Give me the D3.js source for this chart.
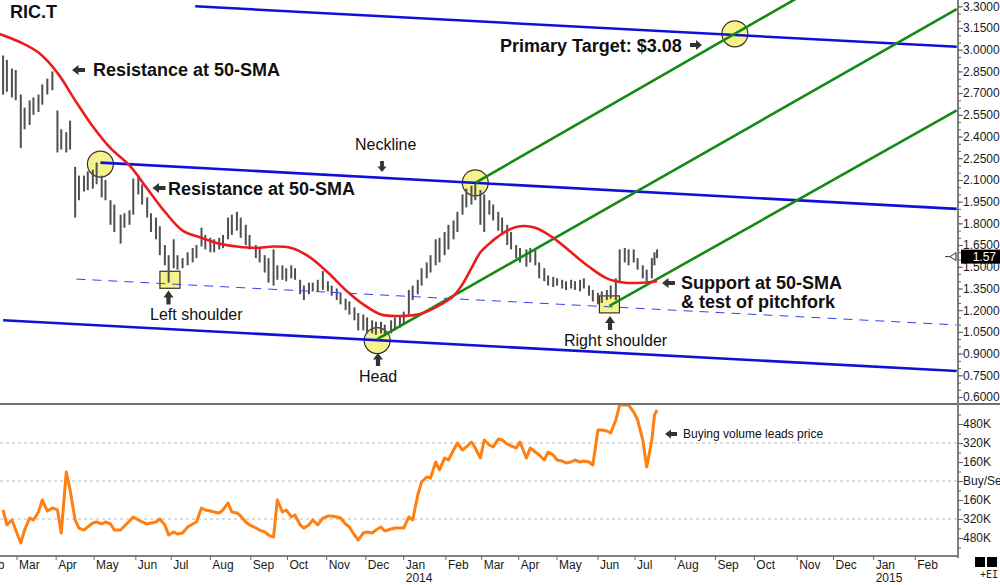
<!DOCTYPE html>
<html>
<head>
<meta charset="utf-8">
<script src="https://cdn.jsdelivr.net/npm/d3@7"></script>
<style>
  body { margin: 0; background: #fff; }
  svg { display: block; font-family: Arial, "Liberation Sans", sans-serif; }
</style>
</head>
<body>
<svg id="chart" width="1000" height="585"></svg>
<script>
// Data
const parseDate = d3.timeParse("%Y-%m-%d");

// first trading day of a few months, used to pin the time axis
const axisAnchors = ["2013-03-01", "2014-01-02", "2014-07-01", "2015-01-02"];

const barDates = [
  "2013-02-18","2013-02-21","2013-02-25","2013-02-28","2013-03-04","2013-03-07","2013-03-11","2013-03-14","2013-03-18","2013-03-21",
  "2013-03-25","2013-03-29","2013-04-02","2013-04-05","2013-04-09","2013-04-12","2013-04-16","2013-04-19","2013-04-23","2013-04-26",
  "2013-04-30","2013-05-03","2013-05-07","2013-05-10","2013-05-14","2013-05-17","2013-05-22","2013-05-25","2013-05-29","2013-06-01",
  "2013-06-05","2013-06-08","2013-06-12","2013-06-15","2013-06-19","2013-06-22","2013-06-26","2013-06-29","2013-07-03","2013-07-06",
  "2013-07-10","2013-07-14","2013-07-18","2013-07-21","2013-07-25","2013-07-28","2013-08-01","2013-08-04","2013-08-08","2013-08-11",
  "2013-08-15","2013-08-18","2013-08-22","2013-08-25","2013-08-29","2013-09-01","2013-09-06","2013-09-09","2013-09-13","2013-09-16",
  "2013-09-20","2013-09-23","2013-09-27","2013-09-30","2013-10-04","2013-10-07","2013-10-11","2013-10-14","2013-10-18","2013-10-21",
  "2013-10-25","2013-10-29","2013-11-02","2013-11-05","2013-11-09","2013-11-12","2013-11-16","2013-11-19","2013-11-23","2013-11-26",
  "2013-11-30","2013-12-03","2013-12-07","2013-12-10","2013-12-14","2013-12-17","2013-12-22","2013-12-25","2013-12-29","2014-01-01",
  "2014-01-05","2014-01-08","2014-01-12","2014-01-15","2014-01-19","2014-01-22","2014-01-26","2014-01-29","2014-02-02","2014-02-05",
  "2014-02-09","2014-02-12","2014-02-16","2014-02-19","2014-02-23","2014-02-26","2014-03-02","2014-03-05","2014-03-09","2014-03-12",
  "2014-03-16","2014-03-19","2014-03-23","2014-03-26","2014-03-30","2014-04-02","2014-04-07","2014-04-10","2014-04-14","2014-04-17",
  "2014-04-21","2014-04-24","2014-04-28","2014-05-01","2014-05-05","2014-05-08","2014-05-12","2014-05-15","2014-05-19","2014-05-22",
  "2014-05-26","2014-05-29","2014-06-02","2014-06-05","2014-06-09","2014-06-12","2014-06-16","2014-06-19","2014-06-23","2014-06-26",
  "2014-06-30","2014-07-03","2014-07-07","2014-07-10","2014-07-14","2014-07-16","2014-07-18"
];

const barHigh = [
  2.96,2.93,2.87,2.86,2.69,2.60,2.65,2.67,2.69,2.76,
  2.80,2.85,2.58,2.45,2.43,2.51,2.19,2.13,2.13,2.16,
  2.17,2.22,2.13,2.10,1.96,1.93,1.86,1.87,1.89,2.11,
  2.13,2.07,1.98,1.87,1.84,1.78,1.65,1.58,1.69,1.58,
  1.56,1.60,1.63,1.65,1.77,1.72,1.70,1.69,1.70,1.72,
  1.84,1.86,1.88,1.84,1.79,1.72,1.65,1.63,1.58,1.56,
  1.62,1.51,1.51,1.49,1.51,1.49,1.41,1.37,1.39,1.39,
  1.41,1.47,1.40,1.37,1.35,1.32,1.28,1.26,1.22,1.18,
  1.17,1.15,1.13,1.12,1.12,1.10,1.13,1.15,1.16,1.19,
  1.34,1.37,1.41,1.49,1.53,1.58,1.69,1.70,1.74,1.79,
  1.82,1.88,2.00,2.04,2.06,2.08,2.03,2.00,1.96,1.93,
  1.88,1.84,1.79,1.74,1.65,1.63,1.62,1.63,1.62,1.53,
  1.49,1.44,1.43,1.42,1.41,1.40,1.41,1.40,1.41,1.42,
  1.37,1.34,1.32,1.33,1.34,1.37,1.42,1.62,1.63,1.62,
  1.62,1.56,1.51,1.48,1.56,1.60,1.62
];

const barLow = [
  2.69,2.71,2.67,2.65,2.32,2.45,2.48,2.55,2.57,2.62,
  2.69,2.72,2.29,2.31,2.29,2.31,1.84,1.96,2.02,2.03,
  2.04,2.07,1.98,1.96,1.79,1.74,1.66,1.77,1.79,1.86,
  2.00,1.93,1.84,1.74,1.69,1.58,1.51,1.39,1.49,1.48,
  1.49,1.51,1.53,1.56,1.64,1.62,1.60,1.60,1.62,1.63,
  1.69,1.72,1.75,1.70,1.65,1.62,1.56,1.53,1.46,1.39,
  1.37,1.41,1.41,1.40,1.42,1.41,1.31,1.27,1.31,1.33,
  1.33,1.34,1.33,1.30,1.27,1.24,1.20,1.17,1.13,1.06,
  1.06,1.04,1.04,1.03,1.04,1.02,1.04,1.06,1.08,1.10,
  1.17,1.27,1.31,1.37,1.42,1.46,1.51,1.53,1.58,1.62,
  1.69,1.74,1.86,1.91,1.93,1.96,1.79,1.74,1.86,1.82,
  1.75,1.72,1.65,1.62,1.56,1.53,1.50,1.53,1.51,1.42,
  1.40,1.37,1.36,1.37,1.35,1.34,1.35,1.34,1.33,1.35,
  1.30,1.26,1.24,1.25,1.27,1.28,1.27,1.40,1.53,1.51,
  1.53,1.48,1.42,1.40,1.42,1.51,1.56
];

// buy/sell volume flow, thousands (same dates as the bars)
const flowValues = [
  -244,-370,-328,-413,-522,-413,-312,-328,-261,-160,
  -253,-227,-244,-438,76,-76,-328,-396,-413,-387,
  -354,-345,-362,-345,-362,-413,-413,-379,-337,-303,
  -328,-345,-362,-354,-345,-320,-370,-455,-429,-446,
  -438,-387,-362,-345,-227,-244,-253,-261,-269,-244,
  -185,-261,-269,-295,-345,-370,-396,-413,-429,-455,
  -472,-160,-261,-244,-303,-286,-370,-396,-370,-328,
  -370,-312,-295,-295,-303,-312,-362,-387,-455,-497,
  -438,-429,-438,-413,-387,-421,-404,-396,-396,-396,
  -303,-328,-118,-8,34,25,160,93,194,177,
  261,320,261,286,328,278,194,345,303,286,
  354,345,311,295,278,328,194,278,244,219,
  177,244,219,177,168,152,160,177,160,168,
  160,135,429,429,421,404,514,640,640,640,
  581,514,345,118,345,556,598
];

const smaDates = [
  "2013-02-15","2013-02-18","2013-03-04","2013-03-18","2013-04-02","2013-04-16","2013-04-30","2013-05-14","2013-05-29","2013-06-12",
  "2013-06-26","2013-07-10","2013-07-25","2013-08-08","2013-08-22","2013-09-06","2013-09-20","2013-10-04","2013-10-18","2013-11-02",
  "2013-11-16","2013-11-30","2013-12-14","2013-12-29","2014-01-12","2014-01-26","2014-02-09","2014-02-16","2014-02-23","2014-03-02",
  "2014-03-09","2014-03-16","2014-03-23","2014-04-02","2014-04-14","2014-04-28","2014-05-12","2014-05-26","2014-06-09","2014-06-23",
  "2014-07-07","2014-07-18"
];
const smaValues = [
  3.11,3.10,3.05,2.98,2.84,2.65,2.47,2.32,2.20,2.04,
  1.88,1.75,1.70,1.66,1.64,1.63,1.64,1.63,1.57,1.46,
  1.34,1.24,1.17,1.16,1.17,1.22,1.30,1.38,1.49,1.60,
  1.66,1.71,1.75,1.78,1.77,1.70,1.60,1.50,1.42,1.39,
  1.39,1.40
];

const lastPrice = 1.57;

const priceTicks = [0.60,0.75,0.90,1.05,1.20,1.35,1.50,1.65,1.80,1.95,2.10,2.25,2.40,2.55,2.70,2.85,3.00,3.15,3.30];
const flowTicks = [-480,-320,-160,0,160,320,480];
const flowGrid = [-320,0,320];

// trend lines: [start, end] as [date, price]
const upperChannel = [["2013-07-20", 3.30], ["2015-03-06", 3.02]];
const neckline     = [["2013-05-06", 2.22], ["2015-03-06", 1.90]];
const lowerChannel = [["2013-02-18", 1.13], ["2015-03-06", 0.78]];
const innerDashed  = [["2013-04-17", 1.415], ["2015-03-06", 1.098]];
const forkUpper    = [["2014-02-26", 2.08], ["2015-03-06", 3.99]];
const forkMedian   = [["2013-12-11", 1.00], ["2015-03-06", 3.28]];
const forkLower    = [["2014-06-11", 1.23], ["2015-03-06", 2.58]];

// highlighted pivots
const pivotCircles = [["2013-05-06", 2.21], ["2013-12-11", 0.99], ["2014-02-26", 2.08], ["2014-09-16", 3.11]];
const pivotSquares = [["2013-06-30", 1.41], ["2014-06-11", 1.24]];

// Layout
const plotRight = 958, priceBottom = 404, flowBottom = 556;

const svg = d3.select("#chart");

const x = d3.scaleTime()
  .domain(axisAnchors.map(parseDate))
  .range([17, 405, 635, 875]);

const y = d3.scaleLinear().domain([0.6, 3.3]).range([397, 6.3]);
const yFlow = d3.scaleLinear().domain([-480, 480]).range([538, 424]);

const defs = svg.append("defs");
defs.append("clipPath").attr("id", "clipPrice")
  .append("rect").attr("x", 0).attr("y", 0).attr("width", plotRight).attr("height", priceBottom);
defs.append("clipPath").attr("id", "clipFlow")
  .append("rect").attr("x", 0).attr("y", priceBottom + 1).attr("width", plotRight).attr("height", flowBottom - priceBottom - 1);

// lower panel dashed grid
svg.append("g").selectAll("line")
  .data(flowGrid)
  .join("line")
  .attr("x1", 0).attr("x2", plotRight)
  .attr("y1", d => yFlow(d)).attr("y2", d => yFlow(d))
  .attr("stroke", "#b8b8b8")
  .attr("stroke-dasharray", "3,3");

const price = svg.append("g").attr("clip-path", "url(#clipPrice)");

// yellow highlights under the bars
price.selectAll("circle.pivot")
  .data(pivotCircles)
  .join("circle")
  .attr("class", "pivot")
  .attr("cx", d => x(parseDate(d[0])))
  .attr("cy", d => y(d[1]))
  .attr("r", 13)
  .attr("fill", "#f7f38c")
  .attr("stroke", "#3a3320")
  .attr("stroke-width", 1.2);

price.selectAll("rect.pivot")
  .data(pivotSquares)
  .join("rect")
  .attr("class", "pivot")
  .attr("x", d => x(parseDate(d[0])) - 10)
  .attr("y", d => y(d[1]) - 8.5)
  .attr("width", 20)
  .attr("height", 17)
  .attr("fill", "#f7f38c")
  .attr("stroke", "#3a3320")
  .attr("stroke-width", 1.2);

// price bars (high-low)
price.append("g").selectAll("line")
  .data(barDates.map((d, i) => ({ date: parseDate(d), hi: barHigh[i], lo: barLow[i] })))
  .join("line")
  .attr("x1", d => x(d.date)).attr("x2", d => x(d.date))
  .attr("y1", d => y(d.hi)).attr("y2", d => y(d.lo))
  .attr("stroke", "#505050")
  .attr("stroke-width", 2);

// trend lines
const seg = d3.line().x(d => x(parseDate(d[0]))).y(d => y(d[1]));

price.append("path").datum(innerDashed).attr("d", seg)
  .attr("fill", "none").attr("stroke", "#3344ee").attr("stroke-width", 1)
  .attr("stroke-dasharray", "9,7");

[upperChannel, neckline, lowerChannel].forEach(l => {
  price.append("path").datum(l).attr("d", seg)
    .attr("fill", "none").attr("stroke", "#1010d8").attr("stroke-width", 2.6);
});

[forkUpper, forkMedian, forkLower].forEach(l => {
  price.append("path").datum(l).attr("d", seg)
    .attr("fill", "none").attr("stroke", "#138a13").attr("stroke-width", 2.6);
});

// 50-day SMA
price.append("path")
  .datum(smaDates.map((d, i) => [d, smaValues[i]]))
  .attr("d", seg.curve(d3.curveCatmullRom.alpha(0.5)))
  .attr("fill", "none")
  .attr("stroke", "#ec1c1c")
  .attr("stroke-width", 2.6);

// buy/sell flow
svg.append("g").attr("clip-path", "url(#clipFlow)")
  .append("path")
  .datum(barDates.map((d, i) => [parseDate(d), flowValues[i]]))
  .attr("d", d3.line().x(d => x(d[0])).y(d => yFlow(d[1])))
  .attr("fill", "none")
  .attr("stroke", "#ff8010")
  .attr("stroke-width", 3)
  .attr("stroke-linejoin", "round");

// frame
svg.append("line").attr("x1", 0).attr("x2", 1000).attr("y1", priceBottom).attr("y2", priceBottom)
  .attr("stroke", "#707070").attr("stroke-width", 2);
svg.append("line").attr("x1", 0).attr("x2", plotRight).attr("y1", flowBottom).attr("y2", flowBottom)
  .attr("stroke", "#808080").attr("stroke-width", 2);
svg.append("line").attr("x1", plotRight).attr("x2", plotRight).attr("y1", 0).attr("y2", flowBottom + 2)
  .attr("stroke", "#808080").attr("stroke-width", 2);

// right price axis
function styleAxis(g) {
  g.select(".domain").remove();
  g.selectAll("line").attr("stroke", "#666");
  g.selectAll("text").attr("font-size", 12).attr("fill", "#1a1a1a")
    .attr("font-family", "Arial, 'Liberation Sans', sans-serif");
}

svg.append("g").attr("transform", `translate(${plotRight},0)`)
  .call(d3.axisRight(y).tickValues(d3.range(0.6, 3.34, 0.05)).tickSize(3).tickFormat(""))
  .call(styleAxis);
svg.append("g").attr("transform", `translate(${plotRight},0)`)
  .call(d3.axisRight(y).tickValues(priceTicks).tickSize(5).tickPadding(0).tickFormat(d3.format(".4f")))
  .call(styleAxis);

// right flow axis
svg.append("g").attr("transform", `translate(${plotRight},0)`)
  .call(d3.axisRight(yFlow).tickValues(d3.range(-560, 561, 80)).tickSize(3).tickFormat(""))
  .call(styleAxis)
  .selectAll(".tick").filter(d => yFlow(d) < priceBottom + 2 || yFlow(d) > flowBottom - 2).remove();
svg.append("g").attr("transform", `translate(${plotRight},0)`)
  .call(d3.axisRight(yFlow).tickValues(flowTicks).tickSize(5).tickPadding(0)
    .tickFormat(d => d === 0 ? "Buy/Sell" : Math.abs(d) + "K"))
  .call(styleAxis);

// last price marker
const yLast = y(lastPrice);
svg.append("rect").attr("x", 961).attr("y", yLast - 7).attr("width", 40).attr("height", 14).attr("fill", "#000");
svg.append("text").attr("x", 996).attr("y", yLast + 4.5).attr("text-anchor", "end")
  .attr("font-size", 12).attr("fill", "#fff").text(lastPrice.toFixed(2));
svg.append("path")
  .attr("d", `M945,${yLast}H950M950,${yLast}L956,${yLast - 4}V${yLast + 4}Z`)
  .attr("fill", "#fff").attr("stroke", "#333").attr("stroke-width", 1);

// month axis (first weekday of each month)
const monthTicks = d3.timeMonth.range(parseDate("2013-02-01"), parseDate("2015-03-01")).map(d => {
  const wd = d.getDay();
  return wd === 6 ? d3.timeDay.offset(d, 2) : wd === 0 ? d3.timeDay.offset(d, 1) : d;
});
const xAxis = svg.append("g");
xAxis.selectAll("line")
  .data(monthTicks)
  .join("line")
  .attr("x1", d => x(d)).attr("x2", d => x(d))
  .attr("y1", flowBottom).attr("y2", flowBottom + 4)
  .attr("stroke", "#666");
const monthLabels = xAxis.selectAll("text")
  .data(monthTicks)
  .join("text")
  .attr("x", d => x(d) + 2)
  .attr("y", 569)
  .attr("font-size", 12)
  .attr("fill", "#1a1a1a")
  .text(d => d3.timeFormat("%b")(d));
monthLabels.filter(d => d.getMonth() === 0)
  .append("tspan")
  .attr("x", d => x(d) + 2)
  .attr("dy", 13)
  .text(d => d.getFullYear());

// corner widgets
svg.append("rect").attr("x", 975).attr("y", 557).attr("width", 10).attr("height", 10).attr("fill", "#000");
svg.append("rect").attr("x", 987).attr("y", 557).attr("width", 10).attr("height", 10).attr("fill", "#000");
svg.append("text").attr("x", 980).attr("y", 578).attr("font-size", 10)
  .attr("font-family", "'DejaVu Sans Mono', monospace").attr("fill", "#222").text("+EI");

// annotations
function blockArrow(cx, cy, angle, len, half) {
  const hl = len * 0.5, h = half, s = half * 0.42;
  const p = `M${-len / 2},0 L${-len / 2 + hl},${-h} L${-len / 2 + hl},${-s} L${len / 2},${-s} L${len / 2},${s} L${-len / 2 + hl},${s} L${-len / 2 + hl},${h} Z`;
  svg.append("path").attr("d", p)
    .attr("transform", `translate(${cx},${cy}) rotate(${angle})`)
    .attr("fill", "#333");
}

function note(text, tx, ty, size, bold) {
  svg.append("text").attr("x", tx).attr("y", ty)
    .attr("font-size", size)
    .attr("font-weight", bold ? "bold" : "normal")
    .attr("fill", "#111")
    .text(text);
}

note("RIC.T", 10, 18, 18, true);

blockArrow(78.5, 70, 0, 13, 5);
note("Resistance at 50-SMA", 93, 76, 18, true);

blockArrow(159, 188, 0, 13, 5);
note("Resistance at 50-SMA", 168, 195, 18, true);

note("Neckline", 355, 150, 16, false);
blockArrow(382, 166.5, -90, 11, 4.5);

blockArrow(168.5, 297.5, 90, 14, 5);
note("Left shoulder", 150, 320, 16, false);

blockArrow(378, 359.5, 90, 13, 5);
note("Head", 359, 382, 16, false);

blockArrow(610, 323, 90, 14, 5);
note("Right shoulder", 564, 346, 16, false);

note("Primary Target: $3.08", 500, 52, 18, true);
blockArrow(696, 45, 180, 12, 5);

blockArrow(668.5, 283, 0, 13, 5);
note("Support at 50-SMA", 681, 289, 18, true);
note("& test of pitchfork", 681, 308, 18, true);

blockArrow(671, 434, 0, 12, 4.5);
note("Buying volume leads price", 683, 438, 12, false);
</script>
</body>
</html>
